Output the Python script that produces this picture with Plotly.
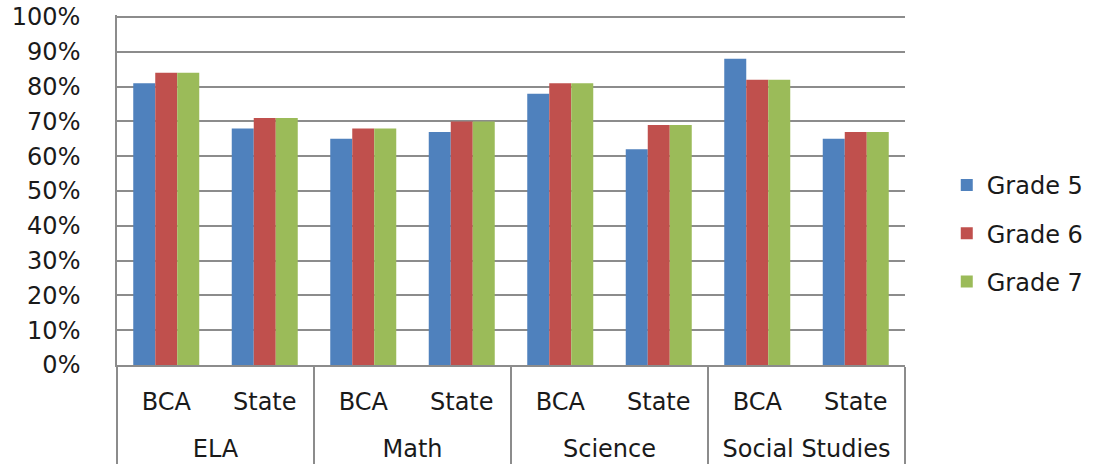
import plotly.graph_objects as go

# Subject groups and the two comparison rows under each
subjects = ["ELA", "ELA", "Math", "Math", "Science", "Science", "Social Studies", "Social Studies"]
sources = ["BCA", "State", "BCA", "State", "BCA", "State", "BCA", "State"]

# Share of students passing, by grade
grade5 = [0.81, 0.68, 0.65, 0.67, 0.78, 0.62, 0.88, 0.65]
grade6 = [0.84, 0.71, 0.68, 0.70, 0.81, 0.69, 0.82, 0.67]
grade7 = [0.84, 0.71, 0.68, 0.70, 0.81, 0.69, 0.82, 0.67]

series = [
    ("Grade 5", grade5, "#4F81BD"),
    ("Grade 6", grade6, "#C0504D"),
    ("Grade 7", grade7, "#9BBB59"),
]

font_family = "DejaVu Sans"
text_color = "#1a1a1a"
grid_color = "#8C8C8C"

# extra line above subject names to open up the space between the two label rows
subject_labels = ["<br>" + s for s in subjects]

fig = go.Figure()
for i, (name, vals, color) in enumerate(series):
    fig.add_trace(go.Bar(
        name=name,
        x=[subject_labels, sources],
        y=vals,
        marker=dict(color=color, line=dict(width=0)),
        legendgroup=f"g{i}",
    ))

fig.update_layout(
    width=1102,
    height=467,
    margin=dict(l=117, r=197, t=15, b=102, autoexpand=False),
    paper_bgcolor="white",
    plot_bgcolor="white",
    barmode="group",
    bargap=0.33,
    bargroupgap=0,
    font=dict(family=font_family, size=24, color=text_color),
    legend=dict(
        x=1.053, xanchor="left", xref="paper",
        y=0.376, yanchor="middle",
        font=dict(family=font_family, size=24, color=text_color),
        tracegroupgap=14,
        itemwidth=30,
        bgcolor="rgba(0,0,0,0)",
    ),
    showlegend=True,
)

fig.update_yaxes(
    range=[0, 1.006],
    tickvals=[i / 10 for i in range(11)],
    tickformat=".0%",
    showgrid=True,
    gridcolor=grid_color,
    gridwidth=1.5,
    showline=True,
    linecolor=grid_color,
    linewidth=1.5,
    zeroline=False,
    ticks="",
    ticklabelstandoff=30,
    automargin=False,
    tickfont=dict(family=font_family, size=24, color=text_color),
)

fig.update_xaxes(
    type="multicategory",
    showline=True,
    linecolor=grid_color,
    linewidth=1.5,
    showdividers=True,
    dividercolor=grid_color,
    dividerwidth=1.5,
    ticks="",
    ticklabelstandoff=14,
    automargin=False,
    tickfont=dict(family=font_family, size=24, color=text_color),
)

fig.write_html("out.html")
